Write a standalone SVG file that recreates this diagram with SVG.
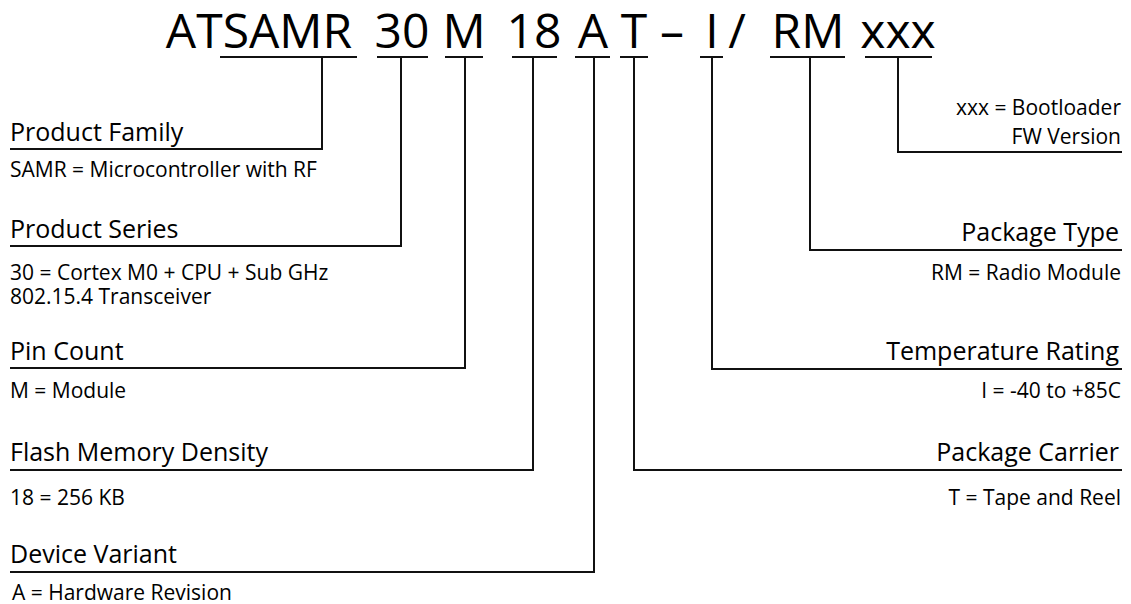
<svg xmlns="http://www.w3.org/2000/svg" width="1131" height="604" viewBox="0 0 1131 604">
<style>
text{font-family:"Open Sans","Noto Sans","Liberation Sans",sans-serif;fill:#000}
.t{font-size:48px}
.l{font-size:25px}
.d{font-size:21px}
.r{text-anchor:end}
.m{text-anchor:middle}
.c{fill:none;stroke:#111;stroke-width:2}
</style>
<rect width="1131" height="604" fill="#fff"/>
<g id="title">
<text class="t m" x="259" y="48">ATSAMR</text>
<text class="t m" x="402" y="48">30</text>
<text class="t m" x="464" y="48">M</text>
<text class="t m" x="534" y="48">18</text>
<text class="t m" x="593" y="48">A</text>
<text class="t m" x="634" y="48">T</text>
<text class="t m" x="672" y="48">–</text>
<text class="t m" x="712" y="48">I</text>
<text class="t m" x="737" y="48">/</text>
<text class="t m" x="808" y="48">RM</text>
<text class="t m" x="898" y="48">xxx</text>
</g>
<g id="connectors">
<path class="c" d="M220,57H357M322,57V149H10"/>
<path class="c" d="M377,57H428M401,57V246H10"/>
<path class="c" d="M445,57H483M465,57V368H10"/>
<path class="c" d="M512,57H557M533,57V470H10"/>
<path class="c" d="M575,57H610M594,57V572H10"/>
<path class="c" d="M620,57H648M634,57V470H1122"/>
<path class="c" d="M700,57H723M712,57V369H1122"/>
<path class="c" d="M770,57H845M810,57V250H1122"/>
<path class="c" d="M865,57H932M898,57V152H1122"/>
</g>
<g id="product-family">
<text class="l" x="10" y="141">Product Family</text>
<text class="d" x="10" y="177">SAMR = Microcontroller with RF</text>
</g>
<g id="product-series">
<text class="l" x="10" y="238">Product Series</text>
<text class="d" x="10" y="280">30 = Cortex M0 + CPU + Sub GHz</text>
<text class="d" x="10" y="304">802.15.4 Transceiver</text>
</g>
<g id="pin-count">
<text class="l" x="10" y="360">Pin Count</text>
<text class="d" x="10" y="398">M = Module</text>
</g>
<g id="flash-memory-density">
<text class="l" x="10" y="461">Flash Memory Density</text>
<text class="d" x="10" y="505">18 = 256 KB</text>
</g>
<g id="device-variant">
<text class="l" x="10" y="563">Device Variant</text>
<text class="d" x="12" y="600">A = Hardware Revision</text>
</g>
<g id="bootloader">
<text class="d r" x="1121" y="115">xxx = Bootloader</text>
<text class="d r" x="1121" y="144">FW Version</text>
</g>
<g id="package-type">
<text class="l r" x="1119" y="241">Package Type</text>
<text class="d r" x="1121" y="280">RM = Radio Module</text>
</g>
<g id="temperature-rating">
<text class="l r" x="1119" y="360">Temperature Rating</text>
<text class="d r" x="1121" y="398">I = -40 to +85C</text>
</g>
<g id="package-carrier">
<text class="l r" x="1119" y="461">Package Carrier</text>
<text class="d r" x="1121" y="505">T = Tape and Reel</text>
</g>
</svg>
